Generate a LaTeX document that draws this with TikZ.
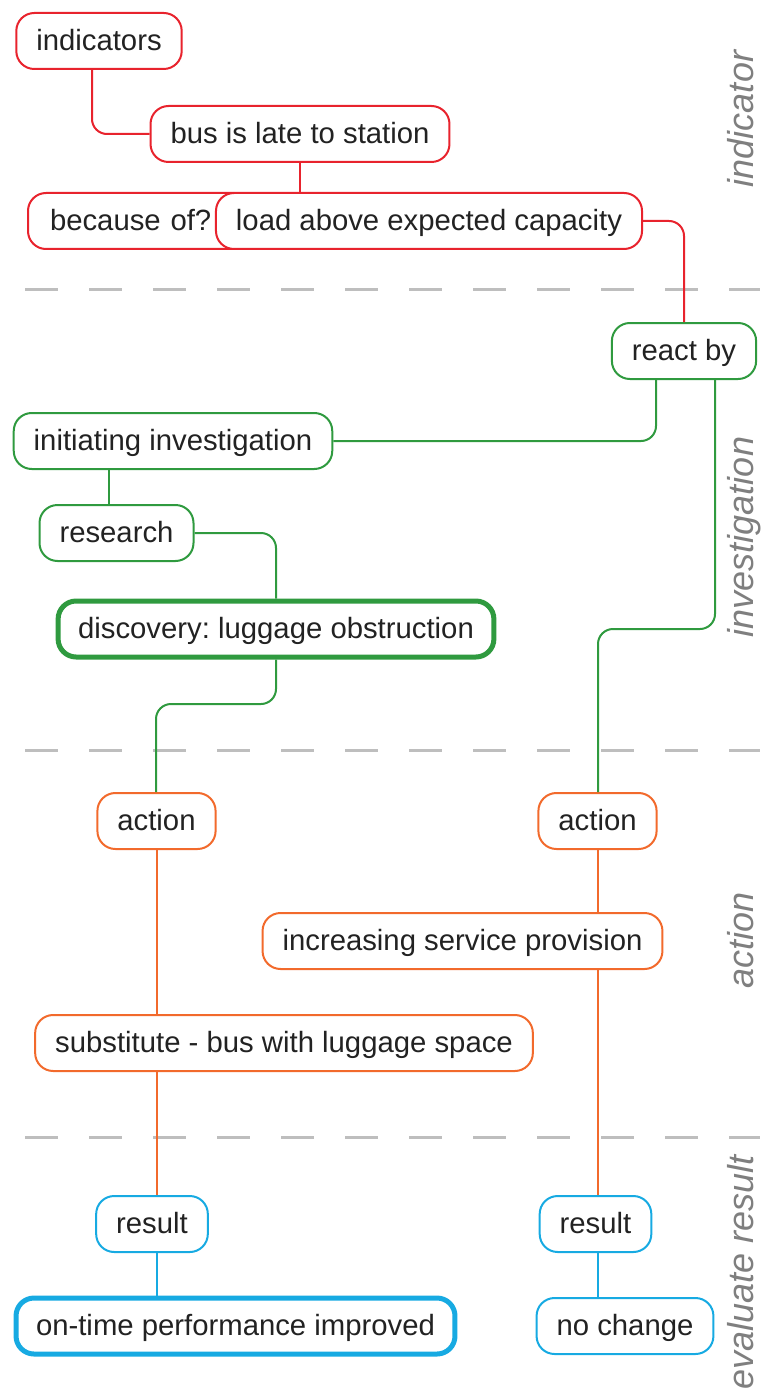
\documentclass[tikz,border=0pt]{standalone}
\usepackage{fontspec}
\setmainfont{Liberation Sans}
\frenchspacing
\usetikzlibrary{positioning}
\definecolor{indred}{HTML}{E8232D}
\definecolor{invgreen}{HTML}{2F9A3F}
\definecolor{actorange}{HTML}{F26A2C}
\definecolor{resblue}{HTML}{17AAE2}
\definecolor{sepgray}{HTML}{BEBEBE}
\definecolor{labelgray}{HTML}{7F7F7F}
\definecolor{textdark}{HTML}{222222}
\tikzstyle{stepbox} = [
    rectangle,                 % Shape
    line width=2pt,            % Border
    rounded corners=18pt,      % Pill-like corners
    minimum height=56pt,       % Height
    inner xsep=20pt,
    text height=23pt,
    text depth=4pt,
    fill=white,                % Hide what lies behind
    text=textdark,
    font=\fontsize{29.3}{35}\selectfont
]
\tikzstyle{indbox} = [stepbox, draw=indred]
\tikzstyle{invbox} = [stepbox, draw=invgreen]
\tikzstyle{actbox} = [stepbox, draw=actorange]
\tikzstyle{resbox} = [stepbox, draw=resblue]
\tikzstyle{keybox} = [line width=5pt]
\tikzstyle{link} = [line width=2pt, rounded corners=15pt]
\tikzstyle{separator} = [sepgray, line width=3pt, dash pattern=on 33pt off 31pt]
\tikzstyle{phase} = [rotate=90, anchor=base, inner sep=0pt, text=labelgray,
                     font=\fontsize{36}{40}\selectfont\itshape]
\begin{document}
\begin{tikzpicture}[x=1pt, y=-1pt]
		\useasboundingbox (0,0) rectangle (760,1396);

		% Phase separators
		\draw[separator] (25,290) -- (760,290);
		\draw[separator] (25,750) -- (760,750);
		\draw[separator] (25,1137) -- (760,1137);

		% Phase labels
		\node[phase] (lbl_ind) at (753,119) {indicator};
		\node[phase] (lbl_inv) at (753,537) {investigation};
		\node[phase] (lbl_act) at (753,940) {action};
		\node[phase] (lbl_res) at (753,1272) {evaluate result};

		% Indicator
		\node[indbox] (ind) at (99,41) {indicators};
		\node[indbox] (late) at (300,134) {bus is late to station};
		\node[indbox, anchor=west, text width=180pt, inner xsep=22pt] (cause) at (27,221) {because of?};
		\node[indbox] (load) at (429,221) {load above expected capacity};

		% Investigation
		\node[invbox] (react) at (684,351) {react by};
		\node[invbox] (init) at (173,441) {initiating investigation};
		\node[invbox] (research) at (116.5,533) {research};
		\node[invbox, keybox] (disc) at (276,629) {discovery: luggage obstruction};

		% Action
		\node[actbox] (act_l) at (156.5,821) {action};
		\node[actbox] (act_r) at (597.5,821) {action};
		\node[actbox] (service) at (462.5,941) {increasing service provision};
		\node[actbox] (subst) at (284,1043) {substitute - bus with luggage space};

		% Result
		\node[resbox] (res_l) at (152,1224) {result};
		\node[resbox] (res_r) at (595.5,1224) {result};
		\node[resbox, keybox] (ontime) at (235.5,1326) {on-time performance improved};
		\node[resbox] (nochange) at (625,1326) {no change};

		\coordinate (bend_l) at (156,704);
		\coordinate (bend_r) at (598,629);

		% Links
		\draw[link, indred] ([xshift=-7pt]ind.south) |- (late.west);
		\draw[link, indred] (late.south) -- (late.south |- load.north);
		\draw[link, indred] (load.east) -| (react.north);

		\draw[link, invgreen] ([xshift=-28pt]react.south) |- (init.east);
		\draw[link, invgreen] ([xshift=31pt]react.south) |- (bend_r) -- (bend_r |- act_r.north);
		\draw[link, invgreen] ([xshift=-8pt]research.north |- init.south) -- ([xshift=-8pt]research.north);
		\draw[link, invgreen] (research.east) -| (disc.north);
		\draw[link, invgreen] (disc.south) |- (bend_l) -- (bend_l |- act_l.north);

		\draw[link, actorange] (act_l.south) -- (act_l.south |- subst.north);
		\draw[link, actorange] (act_l.south |- subst.south) -- (act_l.south |- res_l.north);
		\draw[link, actorange] (bend_r |- act_r.south) -- (bend_r |- service.north);
		\draw[link, actorange] (bend_r |- service.south) -- (bend_r |- res_r.north);

		\draw[link, resblue] (act_l.south |- res_l.south) -- (act_l.south |- ontime.north);
		\draw[link, resblue] (bend_r |- res_r.south) -- (bend_r |- nochange.north);
	\end{tikzpicture}
\end{document}
